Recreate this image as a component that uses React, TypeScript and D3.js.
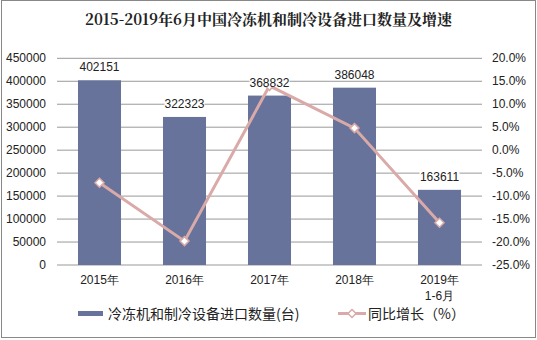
import React from "react";
import * as d3 from "d3";

const categories = ["2015年", "2016年", "2017年", "2018年", "2019年\n1-6月"];
const quantity = [402151, 322323, 368832, 386048, 163611];
const growth = [-7.1, -19.8, 14.0, 4.8, -15.8];
const leftTicks = [0, 50000, 100000, 150000, 200000, 250000, 300000, 350000, 400000, 450000];
const rightTicks = [-25, -20, -15, -10, -5, 0, 5, 10, 15, 20];

const W = 537, H = 340;
const M = { left: 57, right: 482, top: 58.3, bottom: 265 };
const barColor = "#67739a";
const lineColor = "#d9aaa8";
const font = "'Liberation Sans', Arial, sans-serif";

export default function App() {
  const x = d3.scaleBand<string>().domain(categories).range([M.left, M.right]).paddingInner(0.494).paddingOuter(0.247);
  const yL = d3.scaleLinear().domain([0, 450000]).range([M.bottom, M.top]);
  const yR = d3.scaleLinear().domain([-25, 20]).range([M.bottom, M.top]);
  const cx = (c: string) => (x(c) as number) + x.bandwidth() / 2;
  const line = d3.line<number>().x((_, i) => cx(categories[i])).y((d) => yR(d));
  const diamond = (px: number, py: number, r = 4.5) => `M${px},${py - r}L${px + r},${py}L${px},${py + r}L${px - r},${py}Z`;

  return (
    <svg width={W} height={H} style={{ position: "absolute", left: 0, top: 0 }}>
      <rect x={0} y={0} width={W} height={H} fill="#fff" />
      <rect x={1.5} y={0.5} width={534} height={337} fill="none" stroke="#888" strokeWidth={1} />
      <text x={W / 2} y={25} textAnchor="middle" fontFamily="'Noto Serif CJK SC', 'Noto Sans CJK SC', serif" fontWeight="bold" fontSize={15} fill="#222">
        2015-2019年6月中国冷冻机和制冷设备进口数量及增速
      </text>
      {leftTicks.map((t) => (
        <g key={"l" + t}>
          <line x1={M.left} x2={M.right} y1={yL(t)} y2={yL(t)} stroke="#999" strokeWidth={1} />
          <text x={46} y={yL(t) + 4} textAnchor="end" fontFamily={font} fontSize={12} fill="#222">{t}</text>
        </g>
      ))}
      {rightTicks.map((t) => (
        <text key={"r" + t} x={492} y={yR(t) + 4} textAnchor="start" fontFamily={font} fontSize={12} fill="#222">{t.toFixed(1) + "%"}</text>
      ))}
      {categories.map((c, i) => (
        <g key={c}>
          <rect x={x(c)} y={yL(quantity[i])} width={x.bandwidth()} height={M.bottom - yL(quantity[i])} fill={barColor} />
          {c.split("\n").map((s, j) => (
            <text key={j} x={cx(c)} y={284 + j * 16} textAnchor="middle" fontFamily={font} fontSize={12} fill="#222">{s}</text>
          ))}
        </g>
      ))}
      <path d={line(growth) || ""} fill="none" stroke={lineColor} strokeWidth={3} />
      {growth.map((g, i) => (
        <path key={i} d={diamond(cx(categories[i]), yR(g))} fill="#fff" stroke={lineColor} strokeWidth={1.5} />
      ))}
      {categories.map((c, i) => (
        <g key={"lab" + c}>
          <rect x={cx(c) - 20} y={yL(quantity[i]) - 18} width={40} height={9} fill="#fff" />
          <text x={cx(c)} y={yL(quantity[i]) - 9} textAnchor="middle" fontFamily={font} fontSize={12} fill="#222">{quantity[i]}</text>
        </g>
      ))}
      <rect x={78} y={311} width={25} height={5} fill={barColor} />
      <text x={108} y={318.5} fontFamily="'Noto Sans CJK SC', sans-serif" fontSize={14} fill="#222">冷冻机和制冷设备进口数量(台)</text>
      <line x1={338} x2={366} y1={313.5} y2={313.5} stroke={lineColor} strokeWidth={3} />
      <path d={diamond(352, 313.5, 4)} fill="#fff" stroke={lineColor} strokeWidth={1.5} />
      <text x={368} y={318.5} fontFamily="'Noto Sans CJK SC', sans-serif" fontSize={14} fill="#222">同比增长（%）</text>
    </svg>
  );
}
